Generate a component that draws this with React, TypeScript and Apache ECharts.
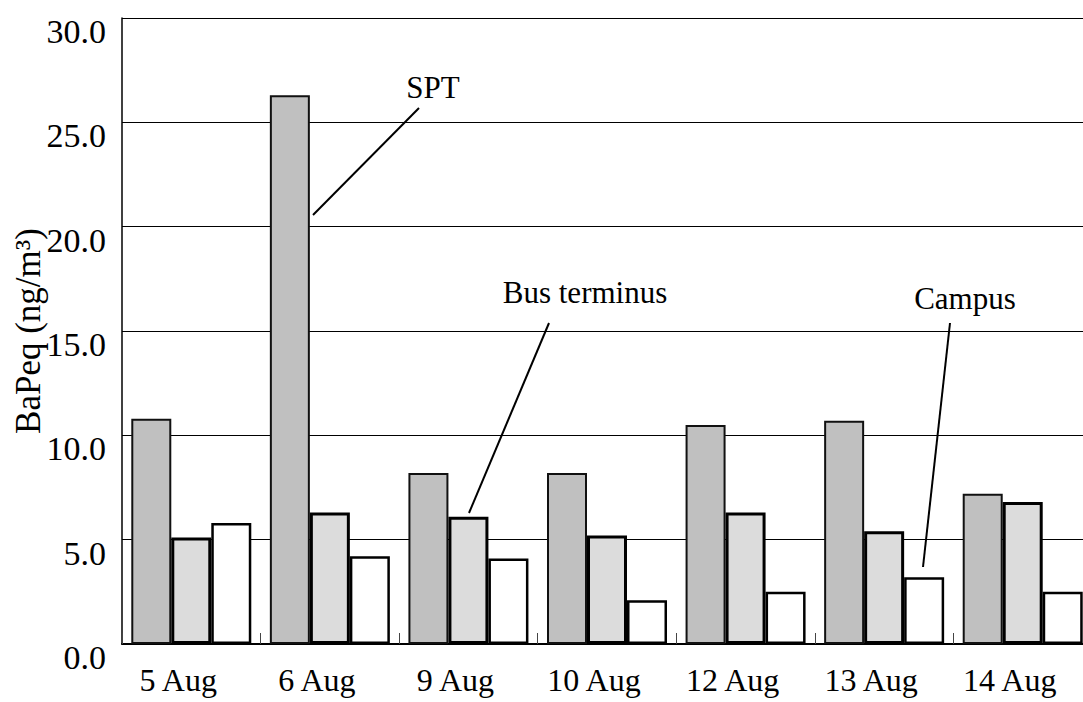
import React, { useEffect, useRef } from "react";
import * as echarts from "echarts";

const categories = ["5 Aug", "6 Aug", "9 Aug", "10 Aug", "12 Aug", "13 Aug", "14 Aug"];
const sptValues = [10.8, 26.3, 8.2, 8.2, 10.5, 10.7, 7.2];
const busValues = [5.1, 6.3, 6.1, 5.2, 6.3, 5.4, 6.8];
const campusValues = [5.8, 4.2, 4.1, 2.1, 2.5, 3.2, 2.5];
const yTicks = [0, 5, 10, 15, 20, 25, 30];

const FONT = '"Liberation Serif", "Times New Roman", serif';

export default function App() {
  const ref = useRef<HTMLDivElement>(null);
  useEffect(() => {
    if (!ref.current) return;
    const chart = echarts.init(ref.current, undefined, { renderer: "svg" });
    const lineStyle = { stroke: "#000", lineWidth: 2 };
    const textStyle = (text: string) => ({
      text,
      fontSize: 31,
      fontFamily: FONT,
      fill: "#000",
      align: "center",
      verticalAlign: "middle",
    });
    chart.setOption({
      animation: false,
      backgroundColor: "#fff",
      grid: {
        left: 122,
        right: 18,
        top: 18,
        bottom: 58,
        containLabel: false,
        outerBoundsMode: "none",
      },
      xAxis: {
        type: "category",
        data: categories,
        boundaryGap: true,
        axisLine: { show: true, lineStyle: { color: "#000", width: 2 } },
        axisTick: { show: true, inside: true, length: 11, lineStyle: { color: "#444", width: 1 } },
        axisLabel: {
          fontSize: 32,
          fontFamily: FONT,
          color: "#000",
          margin: 20,
          padding: [0, 26, 0, 0],
        },
        splitLine: { show: false },
      },
      yAxis: {
        type: "value",
        min: yTicks[0],
        max: yTicks[yTicks.length - 1],
        interval: 5,
        name: "BaPeq (ng/m³)",
        nameLocation: "middle",
        nameGap: 76,
        nameRotate: 90,
        nameMoveOverlap: false,
        nameTextStyle: { fontSize: 35, fontFamily: FONT, color: "#000" },
        axisLine: { show: true, lineStyle: { color: "#000", width: 1.5 } },
        axisTick: { show: false },
        axisLabel: {
          fontSize: 34,
          fontFamily: FONT,
          color: "#000",
          margin: 16,
          verticalAlign: "top",
          lineHeight: 27,
          formatter: (v: number) => v.toFixed(1),
        },
        splitLine: { show: true, lineStyle: { color: "#000", width: 1 } },
      },
      series: [
        {
          name: "SPT",
          type: "bar",
          data: sptValues,
          barWidth: 40,
          barGap: "0%",
          itemStyle: { color: "#c0c0c0", borderColor: "#111", borderWidth: 2 },
        },
        {
          name: "Bus terminus",
          type: "bar",
          data: busValues,
          barWidth: 40,
          barGap: "0%",
          itemStyle: { color: "#dcdcdc", borderColor: "#000", borderWidth: 3 },
        },
        {
          name: "Campus",
          type: "bar",
          data: campusValues,
          barWidth: 40,
          barGap: "0%",
          itemStyle: { color: "#ffffff", borderColor: "#000", borderWidth: 2.5 },
        },
      ],
      graphic: [
        { type: "line", shape: { x1: 313, y1: 215, x2: 419, y2: 108 }, style: lineStyle, z: 100 },
        { type: "text", x: 433, y: 87, style: textStyle("SPT"), z: 100 },
        { type: "line", shape: { x1: 469, y1: 513, x2: 549, y2: 323 }, style: lineStyle, z: 100 },
        { type: "text", x: 585, y: 292, style: textStyle("Bus terminus"), z: 100 },
        { type: "line", shape: { x1: 923, y1: 567, x2: 950, y2: 323 }, style: lineStyle, z: 100 },
        { type: "text", x: 965, y: 298, style: textStyle("Campus"), z: 100 },
      ],
    });
    return () => chart.dispose();
  }, []);
  return (
    <div
      style={{
        position: "fixed",
        left: 0,
        top: 0,
        width: 1083,
        height: 702,
        overflow: "hidden",
        background: "#fff",
      }}
    >
      <div ref={ref} style={{ width: 1110, height: 702 }} />
    </div>
  );
}
